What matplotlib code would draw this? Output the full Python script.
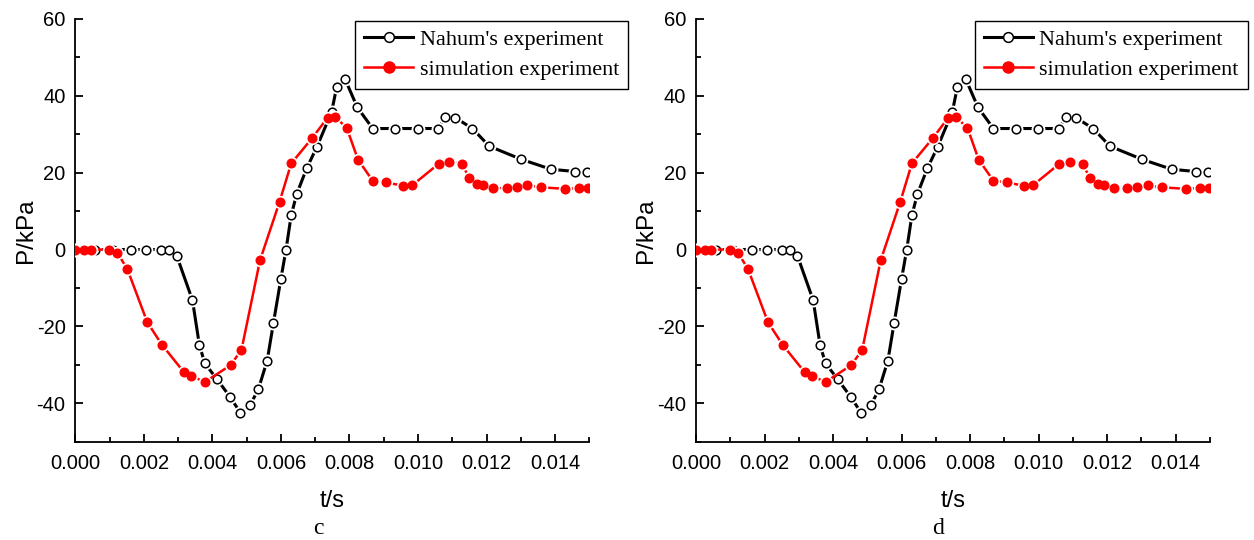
import matplotlib
matplotlib.use('Agg')
import matplotlib.pyplot as plt
from matplotlib.ticker import MultipleLocator, FormatStrFormatter

# data (t in s, P in kPa)
t_nahum = [0.0, 0.000575, 0.00109, 0.00162, 0.00206, 0.00250, 0.00273, 0.00296,
           0.00342, 0.00362, 0.00378, 0.00414, 0.00452, 0.00482, 0.00510, 0.00534,
           0.00560, 0.00578, 0.00600, 0.00615, 0.00630, 0.00646, 0.00675, 0.00705,
           0.00748, 0.00763, 0.00787, 0.00823, 0.00868, 0.00934, 0.00999, 0.01059,
           0.01080, 0.01109, 0.01159, 0.01208, 0.01301, 0.01388, 0.01459, 0.01494]
p_nahum = [0, 0, 0, 0, 0, 0, 0, -1.6,
           -13.2, -24.8, -29.6, -33.8, -38.4, -42.5, -40.5, -36.4,
           -28.9, -19.2, -7.6, 0, 8.9, 14.4, 21.1, 26.7,
           35.8, 42.4, 44.4, 37.0, 31.5, 31.5, 31.5, 31.5,
           34.4, 34.3, 31.5, 26.9, 23.5, 20.9, 20.3, 20.3]

t_sim = [0.0, 0.00025, 0.00045, 0.00098, 0.00123, 0.00152, 0.00210, 0.00253,
         0.00317, 0.00339, 0.00379, 0.00453, 0.00485, 0.00539, 0.00596, 0.00630,
         0.00692, 0.00736, 0.00758, 0.00792, 0.00825, 0.00868, 0.00907, 0.00956,
         0.00983, 0.01060, 0.01090, 0.01128, 0.01150, 0.01172, 0.01191, 0.01220,
         0.01259, 0.01288, 0.01319, 0.01359, 0.01429, 0.01470, 0.01496]
p_sim = [0, 0, 0, 0, -0.9, -5.1, -18.9, -24.8,
         -31.9, -33.0, -34.4, -30.1, -26.1, -2.8, 12.4, 22.4,
         29.1, 34.3, 34.5, 31.7, 23.4, 17.9, 17.5, 16.6,
         16.7, 22.3, 22.9, 22.3, 18.6, 17.1, 16.9, 16.1,
         15.9, 16.3, 16.7, 16.2, 15.8, 16.0, 15.9]

panels = ['c', 'd']
label_nahum = "Nahum's experiment"
label_sim = 'simulation experiment'

plt.rcParams['font.family'] = ['Liberation Sans', 'DejaVu Sans']
plt.rcParams['axes.unicode_minus'] = False

fig = plt.figure(figsize=(12.54, 5.40), dpi=100)

lefts = [75.3 / 1254, 696.0 / 1254]
legend_right = [628.0 / 1254, 1247.5 / 1254]
letter_x = [318.0 / 1254, 938.0 / 1254]

for i, name in enumerate(panels):
    ax = fig.add_axes([lefts[i], 1 - 441.7 / 540, 514.0 / 1254, 422.7 / 540])

    # black series: line, white gap around markers, open circles
    ax.plot(t_nahum, p_nahum, color='black', lw=2.2, zorder=2)
    ax.plot(t_nahum, p_nahum, ls='none', marker='o', ms=9.0, mfc='white',
            mec='white', zorder=3)
    ax.plot(t_nahum, p_nahum, ls='none', marker='o', ms=6.2, mfc='white',
            mec='black', mew=1.1, zorder=4)
    # red series
    ax.plot(t_sim, p_sim, color='red', lw=1.8, zorder=5)
    ax.plot(t_sim, p_sim, ls='none', marker='o', ms=8.6, mfc='white',
            mec='white', zorder=6)
    ax.plot(t_sim, p_sim, ls='none', marker='o', ms=6.2, mfc='red',
            mec='red', zorder=7)

    ax.set_xlim(0, 0.015)
    ax.set_ylim(-50, 60)
    ax.xaxis.set_major_locator(MultipleLocator(0.002))
    ax.xaxis.set_minor_locator(MultipleLocator(0.001))
    ax.xaxis.set_major_formatter(FormatStrFormatter('%.3f'))
    ax.yaxis.set_major_locator(MultipleLocator(20))
    ax.yaxis.set_minor_locator(MultipleLocator(10))

    for s in ['top', 'right']:
        ax.spines[s].set_visible(False)
    for s in ['left', 'bottom']:
        ax.spines[s].set_linewidth(1.3)
    ax.tick_params(which='both', direction='in', width=1.3, labelsize=14.5)
    ax.tick_params(which='major', length=6, pad=7)
    ax.tick_params(axis='x', which='major', pad=9)
    ax.tick_params(which='minor', length=3.5)

    ax.set_xlabel('t/s', fontsize=17, labelpad=12)
    ax.set_ylabel('P/kPa', fontsize=17.5, labelpad=0)

    h1, = ax.plot([], [], color='black', lw=2.2, marker='o', ms=7, mfc='white',
                  mec='black', mew=1.1)
    h2, = ax.plot([], [], color='red', lw=1.8, marker='o', ms=8, mfc='red',
                  mec='red')
    leg = ax.legend([h1, h2], [label_nahum, label_sim],
                    loc='upper right',
                    bbox_to_anchor=(legend_right[i], 1 - 20.7 / 540),
                    bbox_transform=fig.transFigure,
                    prop={'family': 'Liberation Serif', 'size': 16},
                    frameon=True, fancybox=False, framealpha=1,
                    edgecolor='black', borderpad=0.4, labelspacing=0.43,
                    handlelength=2.2, handletextpad=0.3, borderaxespad=0)
    leg.get_frame().set_linewidth(1.0)

    fig.text(letter_x[i], 1 - 529 / 540, name, ha='center', va='center',
             fontsize=17, family='Liberation Serif')

fig.savefig('out.png', dpi=100)
